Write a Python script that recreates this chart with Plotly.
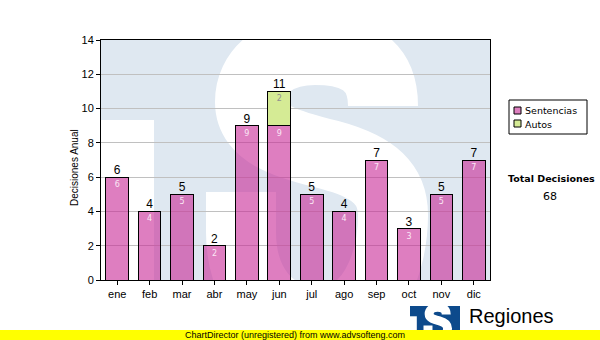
import re
import plotly.graph_objects as go

# ---------------- data ----------------
months = ["ene", "feb", "mar", "abr", "may", "jun", "jul", "ago", "sep", "oct", "nov", "dic"]
sentencias = [6, 4, 5, 2, 9, 9, 5, 4, 7, 3, 5, 7]
autos = [0, 0, 0, 0, 0, 2, 0, 0, 0, 0, 0, 0]
series_names = ["Sentencias", "Autos"]
y_title = "Decisiones Anual"
total_label = "Total Decisiones"

totals = [s + a for s, a in zip(sentencias, autos)]
grand_total = sum(totals)
xs = list(range(len(months)))

# ---------------- geometry helpers (decoration only) ----------------
W, H = 600, 340
PL, PR, PT, PB = 101, 490, 40, 280
N = len(months)


def px2data(px, py):
    return (px - PL) / (PR - PL) * N - 0.5, (PB - py) / (PB - PT) * 14


def px2paper(px, py):
    return (px - PL) / (PR - PL), (PB - py) / (PB - PT)


def conv_path(path, fn):
    def rep(m):
        a, b = fn(float(m.group(1)), float(m.group(2)))
        return f"{a:.5f},{b:.5f}"
    return re.sub(r"(-?\d+\.?\d*),(-?\d+\.?\d*)", rep, path)


S_PATH = ("M 383,106 C 383,62 352,50 315,50 C 275,50 250,72 250,102 "
          "C 250,135 290,145 330,155 C 375,167 393,185 393,215 "
          "C 393,262 372,322 320,322 C 268,322 241,282 241,232 L 241,192")

LIGHT = "#dfe8f1"
PINK = "rgba(200,40,150,0.6)"
GREEN = "#d5eb95"
LOGO_BLUE = "#0d4a8c"

shapes = []
# watermark (clipped to plot area through data refs)
x0, y0 = px2data(PL, PB)
x1, y1 = px2data(PR, PT)
shapes.append(dict(type="rect", xref="x", yref="y", x0=x0, x1=x1, y0=y0, y1=y1,
                   fillcolor=LIGHT, line=dict(width=0), layer="below"))
a0, b0 = px2data(PL, 120)
a1, b1 = px2data(154, 300)
shapes.append(dict(type="rect", xref="x", yref="y", x0=a0, x1=a1, y0=b1, y1=b0,
                   fillcolor="white", line=dict(width=0), layer="below"))
shapes.append(dict(type="path", xref="x", yref="y", path=conv_path(S_PATH, px2data),
                   line=dict(color="white", width=70), fillcolor="rgba(0,0,0,0)", layer="below"))


def prect(px0, py0, px1, py1, **kw):
    ax0, ay0 = px2paper(px0, py0)
    ax1, ay1 = px2paper(px1, py1)
    d = dict(type="rect", xref="paper", yref="paper", x0=ax0, x1=ax1, y0=ay1, y1=ay0)
    d.update(kw)
    return d

# legend box (manual)
shapes.append(prect(509, 100, 587, 134, line=dict(color="black", width=1), fillcolor="white", layer="above"))
shapes.append(prect(514, 107, 521, 114, line=dict(color="black", width=1), fillcolor="#dd7fbf", layer="above"))
shapes.append(prect(514, 120, 521, 127, line=dict(color="black", width=1), fillcolor=GREEN, layer="above"))

# logo
SC = 0.1285
def logo_map(px, py):
    return px2paper(410 + (px - PL) * SC, 306 + (py - PT) * SC)

shapes.append(prect(410, 306, 460, 345, line=dict(width=0), fillcolor=LOGO_BLUE, layer="above"))
lx0, ly0 = logo_map(PL, 120)
lx1, ly1 = logo_map(154, 300)
shapes.append(dict(type="rect", xref="paper", yref="paper", x0=lx0, x1=lx1, y0=ly1, y1=ly0,
                   fillcolor="white", line=dict(width=0), layer="above"))
shapes.append(dict(type="path", xref="paper", yref="paper", path=conv_path(S_PATH, logo_map),
                   line=dict(color="white", width=70 * SC), fillcolor="rgba(0,0,0,0)", layer="above"))
# yellow footer band
shapes.append(prect(0, 330, 600, 341, line=dict(width=0), fillcolor="#ffff00", layer="above"))

# ---------------- traces ----------------
fig = go.Figure()
fig.add_trace(go.Bar(
    x=xs, y=sentencias, name=series_names[0], width=0.7,
    marker=dict(color=PINK, line=dict(color="black", width=1)),
    text=[str(v) for v in sentencias], textposition="inside", insidetextanchor="end",
    textangle=0, constraintext="none",
    textfont=dict(family="DejaVu Sans", size=8, color="#fbe8f5"),
))
fig.add_trace(go.Bar(
    x=xs, y=autos, name=series_names[1], width=0.7,
    marker=dict(color=GREEN, line=dict(color="black", width=1)),
    text=["" if v == 0 else str(v) for v in autos], textposition="inside", insidetextanchor="end",
    textangle=0, constraintext="none",
    textfont=dict(family="DejaVu Sans", size=8, color="#909090"),
))
fig.add_trace(go.Scatter(
    x=xs, y=totals, mode="text", text=[str(v) for v in totals],
    textposition="top center", cliponaxis=False, hoverinfo="skip",
    textfont=dict(family="Liberation Sans", size=12, color="black"),
))

annotations = []
def pann(text, px, py, size, family="Liberation Sans", xanchor="center", color="black", bold=False):
    ax, ay = px2paper(px, py)
    if bold:
        text = f"<b>{text}</b>"
    annotations.append(dict(text=text, x=ax, y=ay, xref="paper", yref="paper", showarrow=False,
                            xanchor=xanchor, yanchor="middle",
                            font=dict(family=family, size=size, color=color)))

pann(series_names[0], 523, 111, 9.5, family="DejaVu Sans", xanchor="left")
pann(series_names[1], 523, 124, 9.5, family="DejaVu Sans", xanchor="left")
pann(total_label, 551, 178, 9.5, family="DejaVu Sans", bold=True)
pann(str(grand_total), 550, 196, 11, family="DejaVu Sans")
pann("ChartDirector (unregistered) from www.advsofteng.com", 295, 335, 9)
pann("Regiones", 467, 316, 20, xanchor="left")
pann(y_title, 74, 168, 10)
annotations[-1]["textangle"] = -90

fig.update_layout(
    width=W, height=H,
    margin=dict(l=PL, r=W - PR, t=PT, b=H - PB, pad=0),
    paper_bgcolor="white", plot_bgcolor="white",
    barmode="stack", bargap=0.3, showlegend=False,
    shapes=shapes, annotations=annotations,
    font=dict(family="Liberation Sans", size=11, color="black"),
)
fig.update_xaxes(
    range=[-0.5, N - 0.5], tickmode="array", tickvals=xs, ticktext=months,
    showgrid=False, zeroline=False, showline=True, linecolor="black", linewidth=1, mirror=True,
    ticks="outside", ticklen=4, tickcolor="black", tickfont=dict(size=11),
)
fig.update_yaxes(
    range=[0, 14], dtick=2, showgrid=True, gridcolor="#c0c0c0", gridwidth=1, zeroline=False,
    showline=True, linecolor="black", linewidth=1, mirror=True,
    ticks="outside", ticklen=4, tickcolor="black", tickfont=dict(size=11),
)

fig.write_html("out.html")
